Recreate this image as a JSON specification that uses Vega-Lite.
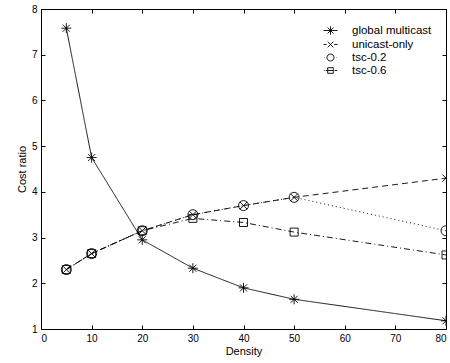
{
  "$schema": "https://vega.github.io/schema/vega-lite/v6.json",
  "width": 405,
  "height": 320,
  "autosize": "none",
  "padding": {"left": 41, "top": 9, "right": 4, "bottom": 34},
  "config": {
    "font": "Liberation Sans",
    "view": {"stroke": "black", "strokeWidth": 1},
    "axis": {
      "grid": false,
      "domain": false,
      "tickColor": "black",
      "tickWidth": 1,
      "labelColor": "black",
      "titleColor": "black",
      "labelFont": "Liberation Sans",
      "titleFont": "Liberation Sans",
      "labelFontSize": 10,
      "titleFontSize": 11,
      "titleFontWeight": "normal",
      "tickSize": 4,
      "offset": -4,
      "labelPadding": 4
    }
  },
  "data": {
    "values": [
      {"series": "global multicast", "density": 5, "cost": 7.58},
      {"series": "global multicast", "density": 10, "cost": 4.75},
      {"series": "global multicast", "density": 20, "cost": 2.95},
      {"series": "global multicast", "density": 30, "cost": 2.33},
      {"series": "global multicast", "density": 40, "cost": 1.9},
      {"series": "global multicast", "density": 50, "cost": 1.65},
      {"series": "global multicast", "density": 80, "cost": 1.18},
      {"series": "unicast-only", "density": 5, "cost": 2.3},
      {"series": "unicast-only", "density": 10, "cost": 2.65},
      {"series": "unicast-only", "density": 20, "cost": 3.15},
      {"series": "unicast-only", "density": 30, "cost": 3.5},
      {"series": "unicast-only", "density": 40, "cost": 3.7},
      {"series": "unicast-only", "density": 50, "cost": 3.88},
      {"series": "unicast-only", "density": 80, "cost": 4.3},
      {"series": "tsc-0.2", "density": 5, "cost": 2.3},
      {"series": "tsc-0.2", "density": 10, "cost": 2.65},
      {"series": "tsc-0.2", "density": 20, "cost": 3.15},
      {"series": "tsc-0.2", "density": 30, "cost": 3.5},
      {"series": "tsc-0.2", "density": 40, "cost": 3.7},
      {"series": "tsc-0.2", "density": 50, "cost": 3.88},
      {"series": "tsc-0.2", "density": 80, "cost": 3.15},
      {"series": "tsc-0.6", "density": 5, "cost": 2.3},
      {"series": "tsc-0.6", "density": 10, "cost": 2.65},
      {"series": "tsc-0.6", "density": 20, "cost": 3.15},
      {"series": "tsc-0.6", "density": 30, "cost": 3.42},
      {"series": "tsc-0.6", "density": 40, "cost": 3.33},
      {"series": "tsc-0.6", "density": 50, "cost": 3.12},
      {"series": "tsc-0.6", "density": 80, "cost": 2.62}
    ]
  },
  "resolve": {"scale": {"shape": "independent", "x": "independent", "y": "independent"}, "axis": {"x": "independent", "y": "independent"}},
  "layer": [
    {
      "mark": {"type": "line", "color": "black", "strokeWidth": 0.9, "clip": true},
      "encoding": {
        "x": {"field": "density", "type": "quantitative", "scale": {"domain": [0, 80], "nice": false, "zero": false},
              "axis": {"title": "Density", "values": [0,10,20,30,40,50,60,70,80], "titlePadding": 2}},
        "y": {"field": "cost", "type": "quantitative", "scale": {"domain": [1, 8], "nice": false, "zero": false},
              "axis": {"title": "Cost ratio", "values": [1,2,3,4,5,6,7,8], "titlePadding": 4}},
        "detail": {"field": "series"},
        "strokeDash": {"field": "series", "type": "nominal", "legend": null,
          "scale": {"domain": ["global multicast", "unicast-only", "tsc-0.2", "tsc-0.6"],
                    "range": [[1, 0], [6, 4], [1, 3], [6, 3, 1, 3]]}}
      }
    },
    {
      "mark": {"type": "point", "filled": false, "stroke": "black", "strokeWidth": 0.9, "clip": true, "opacity": 1},
      "encoding": {
        "x": {"field": "density", "type": "quantitative", "scale": {"domain": [0, 80], "nice": false, "zero": false},
              "axis": {"orient": "top", "labels": false, "title": null, "values": [0,10,20,30,40,50,60,70,80]}},
        "y": {"field": "cost", "type": "quantitative", "scale": {"domain": [1, 8], "nice": false, "zero": false},
              "axis": {"orient": "right", "labels": false, "title": null, "values": [1,2,3,4,5,6,7,8]}},
        "shape": {"field": "series", "type": "nominal", "legend": null,
          "scale": {"domain": ["global multicast", "unicast-only", "tsc-0.2", "tsc-0.6"],
                    "range": ["M-1,0H1M0,-1V1M-0.7,-0.7L0.7,0.7M-0.7,0.7L0.7,-0.7", "M-0.75,-0.75L0.75,0.75M-0.75,0.75L0.75,-0.75", "circle", "M-0.8,-0.8H0.8V0.8H-0.8Z"]}},
        "size": {"value": 100}
      }
    },
    {
      "mark": {"type": "point", "filled": false, "stroke": "black", "strokeWidth": 0.9},
      "encoding": {
        "x": {"field": "density", "type": "quantitative", "scale": {"domain": [0, 80], "nice": false, "zero": false}, "axis": null},
        "y": {"field": "cost", "type": "quantitative", "scale": {"domain": [1, 8], "nice": false, "zero": false}, "axis": null},
        "shape": {"field": "series", "type": "nominal",
          "legend": {"orient": "top-right", "title": null, "offset": 6, "labelFontSize": 11.5, "labelFont": "Liberation Sans",
                     "labelColor": "black", "symbolStrokeColor": "black", "symbolOpacity": 1, "symbolSize": 196,
                     "symbolStrokeWidth": 0.9, "rowPadding": 0, "labelOffset": 14, "padding": 8},
          "scale": {"domain": ["global multicast", "unicast-only", "tsc-0.2", "tsc-0.6"],
                    "range": [
                      "M-1,0H1M0,-0.6V0.6M-0.42,-0.42L0.42,0.42M-0.42,0.42L0.42,-0.42",
                      "M-1,0H-0.55M0.55,0H1M-0.4,-0.4L0.4,0.4M-0.4,0.4L0.4,-0.4",
                      "M-0.5,0A0.5,0.5 0 1 0 0.5,0A0.5,0.5 0 1 0 -0.5,0M-0.9,0H-0.85M0.85,0H0.9",
                      "M-0.4,-0.4H0.4V0.4H-0.4ZM-0.95,0H-0.85M-0.7,0H0.4M0.6,0H0.95"
                    ]}},
        "size": {"value": 100},
        "opacity": {"value": 0}
      }
    }
  ]
}
